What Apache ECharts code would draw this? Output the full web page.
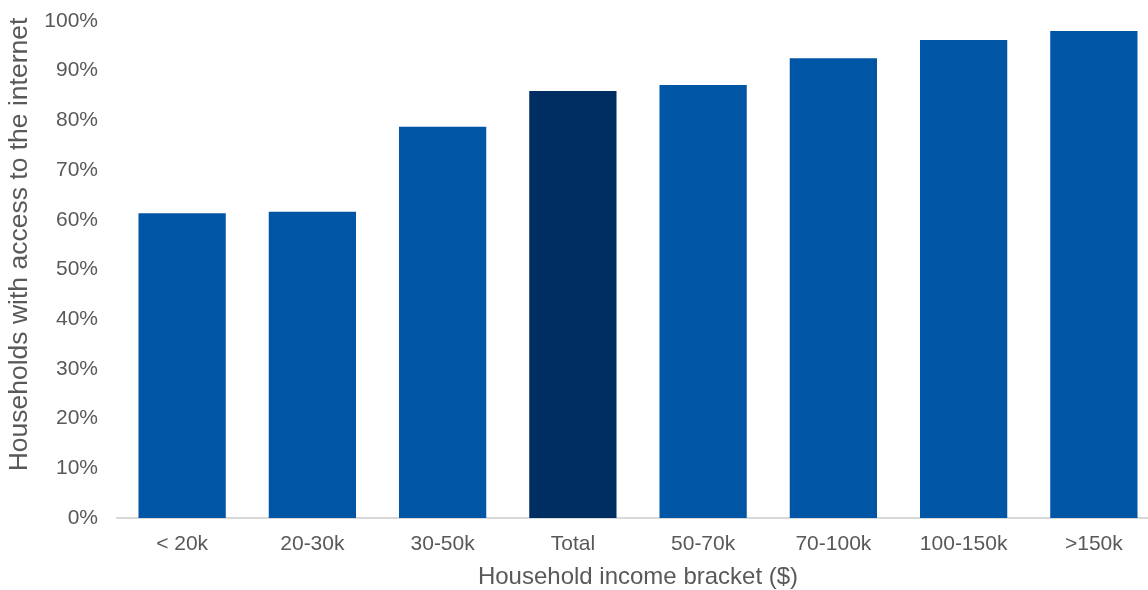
<!DOCTYPE html>
<html>
<head>
<meta charset="utf-8">
<script src="https://cdn.jsdelivr.net/npm/echarts@6/dist/echarts.min.js"></script>
<style>
    html, body { margin: 0; padding: 0; background: #fff; }
    #chart { width: 1148px; height: 590px; }
</style>
</head>
<body>
<div id="chart"></div>
<script>
// 收入分组
const categories = ['< 20k', '20-30k', '30-50k', 'Total', '50-70k', '70-100k', '100-150k', '>150k']
// 有网络接入的家庭占比 (%)
const values = [61.3, 61.6, 78.7, 85.9, 87.1, 92.5, 96.2, 98.0]
const highlight = 'Total'

const textColor = '#595959'
const fontFamily = 'Liberation Sans, Arial, sans-serif'

let chart = echarts.init(document.getElementById('chart'))
let option = {
    animation: false,
    grid: {
        left: 117,
        width: 1042, // 最右边的柱子略超出画布
        top: 21,
        bottom: 72,
        containLabel: false,
        outerBoundsMode: 'none'
    },
    xAxis: {
        type: 'category',
        data: categories,
        name: 'Household income bracket ($)',
        nameLocation: 'middle',
        nameGap: 47,
        nameTextStyle: { color: textColor, fontSize: 24, fontFamily: fontFamily },
        axisLine: { lineStyle: { color: '#d9d9d9', width: 2 } },
        axisTick: { show: false },
        axisLabel: { color: textColor, fontSize: 21, fontFamily: fontFamily, margin: 16 }
    },
    yAxis: {
        type: 'value',
        min: 0,
        max: 100,
        interval: 10,
        name: 'Households with access to the internet',
        nameLocation: 'middle',
        nameGap: 77,
        nameTextStyle: {
            color: textColor,
            fontSize: 26.5,
            fontFamily: fontFamily,
            padding: [0, 0, 0, 50]
        },
        axisLine: { show: false },
        axisTick: { show: false },
        splitLine: { show: false },
        axisLabel: {
            color: textColor,
            fontSize: 21,
            fontFamily: fontFamily,
            margin: 19,
            formatter: '{value}%'
        }
    },
    series: [
        {
            type: 'bar',
            barCategoryGap: '33%',
            data: values.map((v, i) => ({
                value: v,
                itemStyle: { color: categories[i] === highlight ? '#002d62' : '#0055a5' }
            }))
        }
    ]
}
chart.setOption(option)
</script>
</body>
</html>
